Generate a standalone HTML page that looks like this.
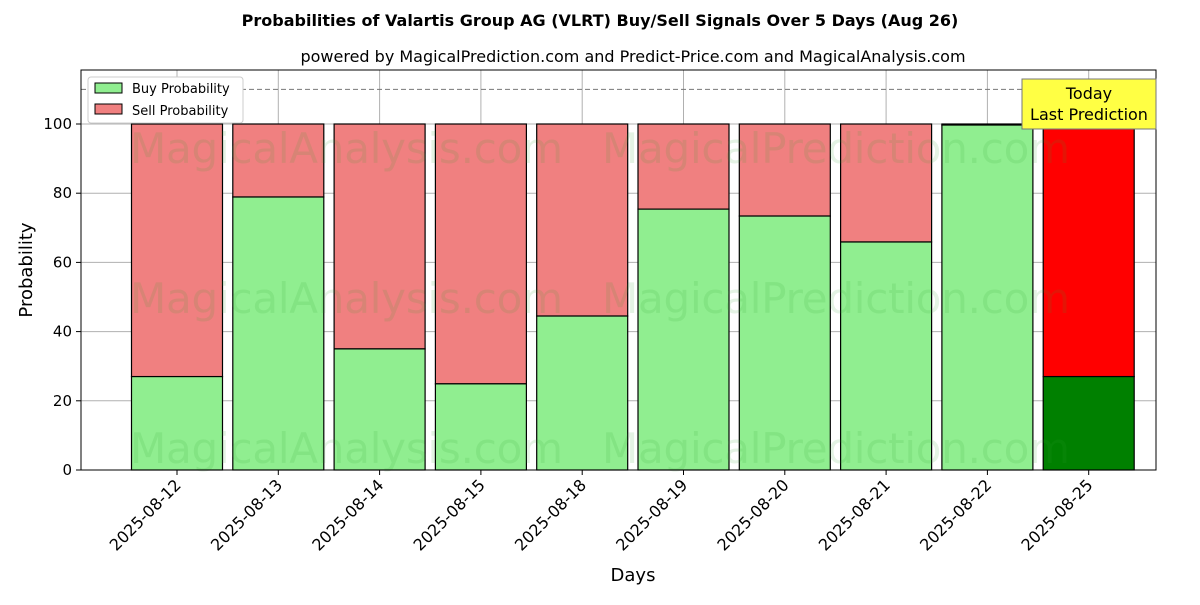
<!DOCTYPE html>
<html><head><meta charset="utf-8"><style>
body{margin:0;background:#fff;}
svg text{font-family:"DejaVu Sans","Liberation Sans",sans-serif;}
</style></head><body>
<svg id="chart" width="1200" height="600" xmlns="http://www.w3.org/2000/svg">
<text x="600" y="26" text-anchor="middle" font-size="16" font-weight="bold">Probabilities of Valartis Group AG (VLRT) Buy/Sell Signals Over 5 Days (Aug 26)</text>
<text x="633" y="62" text-anchor="middle" font-size="16">powered by MagicalPrediction.com and Predict-Price.com and MagicalAnalysis.com</text>
<g id="grid"></g>
<g id="bars"></g>
<g font-size="42" fill="#2ca02c" fill-opacity="0.13">
<text x="130" y="163" textLength="433">MagicalAnalysis.com</text><text x="602" y="163" textLength="468">MagicalPrediction.com</text>
<text x="130" y="313" textLength="433">MagicalAnalysis.com</text><text x="602" y="313" textLength="468">MagicalPrediction.com</text>
<text x="130" y="463" textLength="433">MagicalAnalysis.com</text><text x="602" y="463" textLength="468">MagicalPrediction.com</text>
</g>
<line x1="81" x2="1156" y1="89.4" y2="89.4" stroke="#777" stroke-dasharray="5,3"/>
<rect x="81" y="70" width="1075" height="400" fill="none" stroke="#000"/>
<g id="ticks" font-size="15"></g>
<text x="633" y="581" text-anchor="middle" font-size="18">Days</text>
<text x="32" y="270" text-anchor="middle" font-size="18" transform="rotate(-90 32 270)">Probability</text>
<g>
<rect x="88" y="77" width="155" height="46" fill="#fff" stroke="#ccc" rx="3"/>
<rect x="95" y="83" width="27" height="10" fill="#90ee90" stroke="#000"/>
<text x="132" y="93" font-size="13">Buy Probability</text>
<rect x="95" y="104" width="27" height="10" fill="#f08080" stroke="#000"/>
<text x="132" y="115" font-size="13">Sell Probability</text>
</g>
<g>
<rect x="1022" y="79" width="134" height="50" fill="#ffff44" stroke="#777"/>
<text x="1089" y="99" text-anchor="middle" font-size="16">Today</text>
<text x="1089" y="120" text-anchor="middle" font-size="16">Last Prediction</text>
</g>
</svg>
<script>
const categories=["2025-08-12","2025-08-13","2025-08-14","2025-08-15","2025-08-18","2025-08-19","2025-08-20","2025-08-21","2025-08-22","2025-08-25"];
const buyValues=[27,78.9,35,24.9,44.5,75.4,73.4,65.9,99.7,27];
const yTicks=[0,20,40,60,80,100];
const NS="http://www.w3.org/2000/svg";
const yS=v=>470-v*3.46;
const xS=i=>177+i*101.3;
function mk(t,a,p){const e=document.createElementNS(NS,t);for(const k in a)e.setAttribute(k,a[k]);p.appendChild(e);return e;}
const grid=document.getElementById('grid'),bars=document.getElementById('bars'),ticks=document.getElementById('ticks');
yTicks.forEach(v=>{
 const l=mk('line',{x1:81,x2:1156,y1:yS(v),y2:yS(v),stroke:'#b0b0b0'},grid);
 
 
 mk('line',{x1:76,x2:81,y1:yS(v),y2:yS(v),stroke:'#000'},ticks);
 const t=mk('text',{x:72,y:yS(v)+5,'text-anchor':'end'},ticks);t.textContent=v;
 
 
});
categories.forEach((c,i)=>{
 const x=xS(i);
 const g=mk('line',{x1:x,x2:x,y1:70,y2:470,stroke:'#b0b0b0'},grid);
 
 
 const last=i===categories.length-1;
 const b=buyValues[i];
 const s=mk('rect',{x:x-45.5,y:yS(100),width:91,height:yS(b)-yS(100),fill:last?'#ff0000':'#f08080',stroke:'#000','stroke-width':1.2},bars);
 
 
 const r=mk('rect',{x:x-45.5,y:yS(b),width:91,height:yS(0)-yS(b),fill:last?'#008000':'#90ee90',stroke:'#000','stroke-width':1.2},bars);
 
 
 mk('line',{x1:x,x2:x,y1:470,y2:475,stroke:'#000'},ticks);
 const t=mk('text',{x:x+5,y:486,'text-anchor':'end','font-size':16,transform:`rotate(-45 ${x+5} 486)`},ticks);t.textContent=c;
 
 
});
</script>
</body></html>
